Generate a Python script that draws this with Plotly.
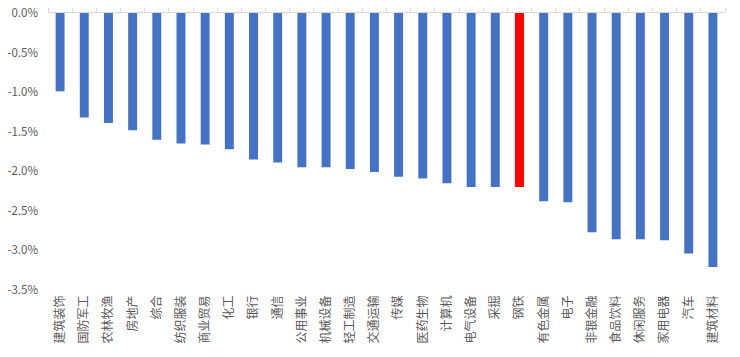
import plotly.graph_objects as go

categories = ["建筑装饰", "国防军工", "农林牧渔", "房地产", "综合", "纺织服装", "商业贸易", "化工",
              "银行", "通信", "公用事业", "机械设备", "轻工制造", "交通运输", "传媒", "医药生物",
              "计算机", "电气设备", "采掘", "钢铁", "有色金属", "电子", "非银金融", "食品饮料",
              "休闲服务", "家用电器", "汽车", "建筑材料"]
values = [-0.99, -1.32, -1.39, -1.48, -1.60, -1.65, -1.66, -1.72,
          -1.85, -1.89, -1.95, -1.95, -1.97, -2.01, -2.07, -2.09,
          -2.15, -2.20, -2.20, -2.20, -2.38, -2.39, -2.77, -2.86,
          -2.86, -2.87, -3.04, -3.21]
highlight = "钢铁"
ytick_vals = [0, -0.5, -1.0, -1.5, -2.0, -2.5, -3.0, -3.5]
ytick_text = ["0.0%", "-0.5%", "-1.0%", "-1.5%", "-2.0%", "-2.5%", "-3.0%", "-3.5%"]

BLUE = "#4472C4"
RED = "#FF0000"
GRID = "#D9D9D9"
TXT = "#595959"
FONT = "Noto Sans CJK SC"

colors = [RED if c == highlight else BLUE for c in categories]
xrange_ = [-0.5, len(categories) - 0.5]

fig = go.Figure()
fig.add_trace(go.Bar(x=categories, y=values, marker=dict(color=colors, line=dict(width=0)),
                     xaxis="x", yaxis="y", hoverinfo="x+y"))
# invisible helper trace to render the top (zero) axis line with boundary ticks
fig.add_trace(go.Scatter(x=categories, y=values, mode="markers", marker=dict(opacity=0, size=1),
                         xaxis="x2", yaxis="y", hoverinfo="skip", showlegend=False))

fig.update_layout(
    width=740, height=357,
    margin=dict(l=47.5, r=15, t=12.5, b=66.5, autoexpand=False),
    paper_bgcolor="white", plot_bgcolor="white",
    showlegend=False,
    bargap=0.63,
    font=dict(family=FONT, color=TXT, size=12),
    xaxis=dict(type="category", range=xrange_, autorange=False, showline=False, showgrid=False,
               zeroline=False, ticks="", tickangle=-90,
               tickfont=dict(family=FONT, size=12, color=TXT),
               ticklabelstandoff=2, automargin=False, ticklabeloverflow="allow"),
    xaxis2=dict(type="category", overlaying="x", matches="x", side="top",
                showline=True, linecolor=GRID, linewidth=1, ticks="outside",
                tickson="boundaries", ticklen=4, tickcolor=GRID, tickwidth=1,
                showticklabels=False, showgrid=False, zeroline=False, automargin=False,
                layer="above traces"),
    yaxis=dict(range=[-3.5, 0], tickvals=ytick_vals, ticktext=ytick_text,
               showgrid=False, zeroline=False, showline=False, ticks="",
               tickfont=dict(family=FONT, size=11.5, color=TXT), ticklabelstandoff=9,
               automargin=False, ticklabeloverflow="allow"),
)

fig.write_html("out.html",
               config={"displayModeBar": False},
               post_script="document.body.style.margin='0';document.body.style.overflow='hidden';")
